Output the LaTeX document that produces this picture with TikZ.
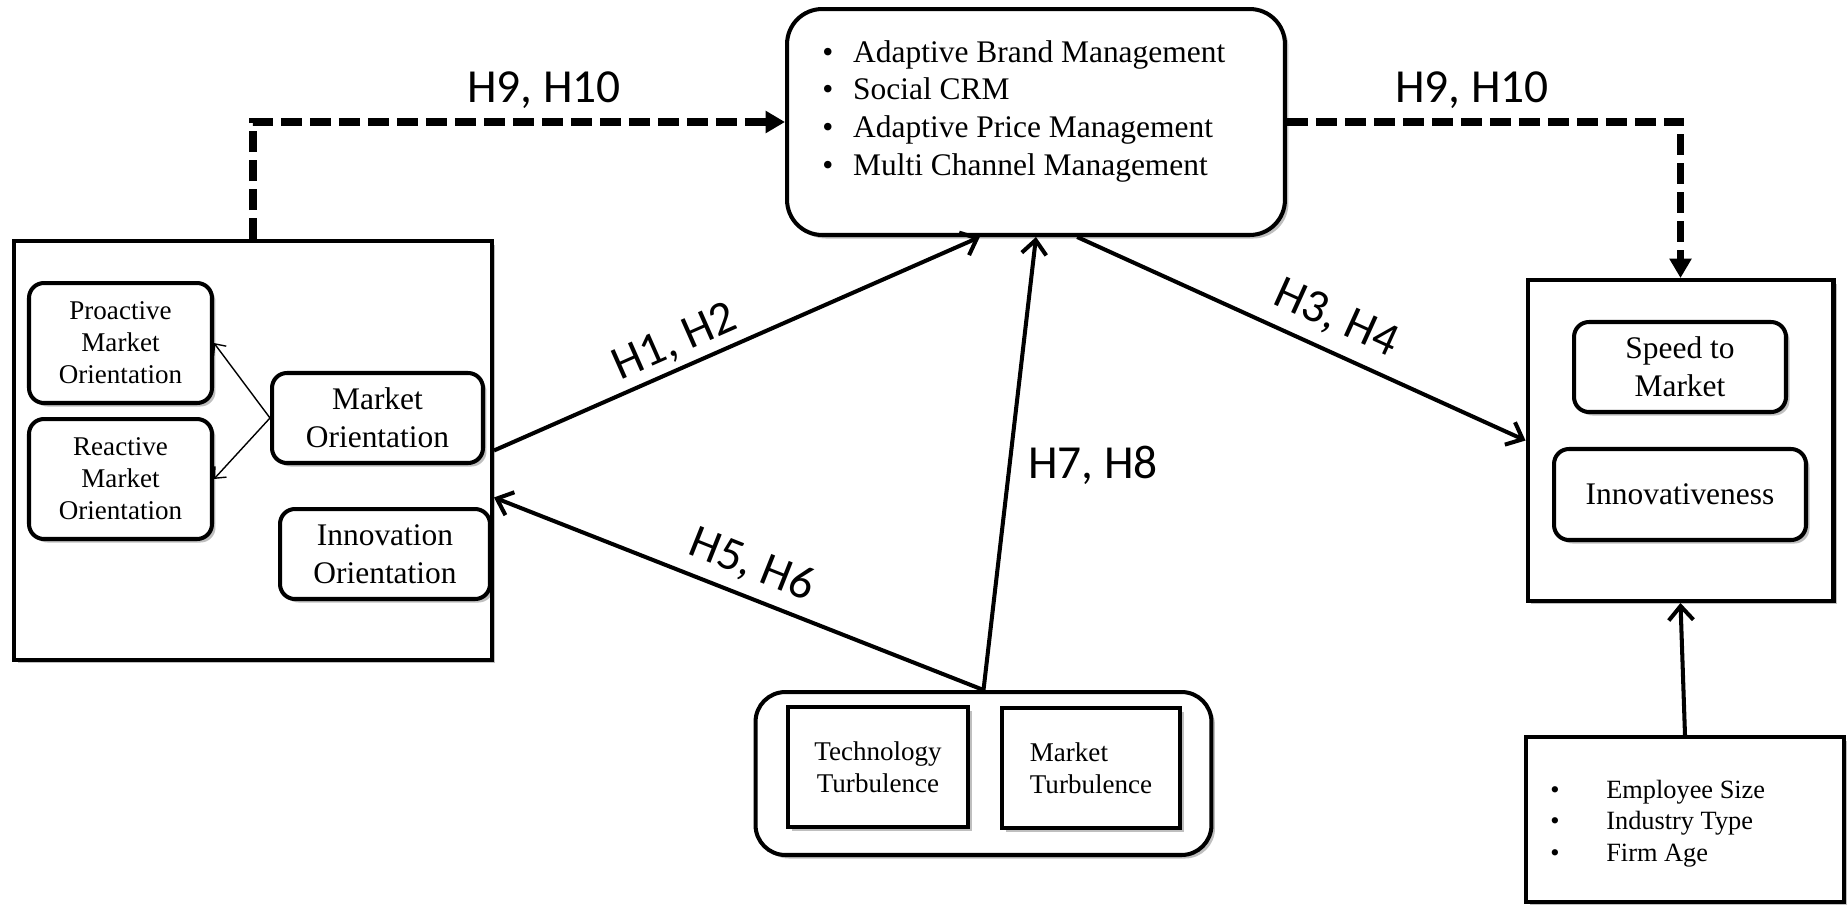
\documentclass[tikz,border=0pt]{standalone}
\usepackage{fontspec}
\setmainfont{Liberation Serif}
\newfontfamily\hypfont{Carlito}
\usetikzlibrary{arrows.meta,calc,shadows}

\tikzset{
  shade/.style={drop shadow={shadow xshift=2pt,shadow yshift=-2pt,opacity=0.25,fill=black}},
  outerbox/.style={draw,line width=2.3pt,fill=white,inner sep=0pt,shade},
  roundbox/.style={draw,line width=2.3pt,fill=white,rounded corners=8.5pt,inner sep=0pt,align=center,shade},
  bigtext/.style={font=\fontsize{17.9}{21.6}\selectfont},
  smalltext/.style={font=\fontsize{15.4}{18.2}\selectfont},
  hyp/.style={font=\hypfont\fontsize{27}{32}\selectfont,inner sep=0pt},
  thickarrow/.style={line width=2.3pt,-{Straight Barb[length=8pt,width=14pt]}},
  thinarrow/.style={line width=0.8pt,-{Straight Barb[length=5pt,width=9pt]}},
  dasharrow/.style={line width=4pt,dash pattern=on 12pt off 4.5pt,-{Triangle[length=11pt,width=12pt]}}
}

\begin{document}
\begin{tikzpicture}[x=0.02cm,y=-0.02cm]
\useasboundingbox (0,0) rectangle (1847,904);

% orientation block
\node[outerbox,minimum width=9.56cm,minimum height=8.38cm] (lbox) at (253,450.5) {};
\node[roundbox,smalltext,minimum width=3.66cm,minimum height=2.4cm] (pmo) at (120.5,343) {Proactive\\Market\\Orientation};
\node[roundbox,smalltext,minimum width=3.66cm,minimum height=2.4cm] (rmo) at (120.5,479) {Reactive\\Market\\Orientation};
\node[roundbox,bigtext,minimum width=4.22cm,minimum height=1.8cm] (mo) at (377.5,418) {Market\\Orientation};
\node[roundbox,bigtext,minimum width=4.2cm,minimum height=1.8cm] (io) at (385,554) {Innovation\\Orientation};

% marketing capabilities
\node[roundbox,rounded corners=20pt,minimum width=9.96cm,minimum height=4.52cm] (strat) at (1036,122) {};
\node[bigtext,anchor=base west,inner sep=0pt] (stratlist) at (822,62) {%
  \begin{tabular}[t]{@{}l@{\hspace{11.3pt}}l@{}}
  \textbullet & Adaptive Brand Management\\
  \textbullet & Social CRM\\
  \textbullet & Adaptive Price Management\\
  \textbullet & Multi Channel Management
  \end{tabular}};

% outcomes
\node[outerbox,minimum width=6.12cm,minimum height=6.42cm] (rbox) at (1680.5,440.5) {};
\node[roundbox,bigtext,minimum width=4.24cm,minimum height=1.8cm] (speed) at (1680,367) {Speed to\\Market};
\node[roundbox,bigtext,minimum width=5.04cm,minimum height=1.82cm] (innov) at (1680,494.5) {Innovativeness};

% controls
\node[outerbox,minimum width=6.36cm,minimum height=3.3cm] (ctrl) at (1685,819.5) {};
\node[anchor=base west,inner sep=0pt,font=\fontsize{15}{18.2}\selectfont] (ctrllist) at (1550,798) {%
  \begin{tabular}[t]{@{}l@{\hspace{26.6pt}}l@{}}
  \textbullet & Employee Size\\
  \textbullet & Industry Type\\
  \textbullet & Firm Age
  \end{tabular}};

% turbulence
\node[roundbox,rounded corners=17pt,minimum width=9.12cm,minimum height=3.26cm] (turb) at (983.5,773.5) {};
\node[outerbox,smalltext,align=center,minimum width=3.6cm,minimum height=2.4cm] (tech) at (878,767) {Technology\\Turbulence};
\node[outerbox,smalltext,align=left,minimum width=3.56cm,minimum height=2.4cm] (mturb) at (1091,768) {Market\\Turbulence};

% connectors
\draw[thinarrow] (mo.west) -- (pmo.east);
\draw[thinarrow] (mo.west) -- (rmo.east);
\draw[thickarrow] (lbox.east) -- ($(strat.south west)!0.388!(strat.south east)$);
\draw[thickarrow] (turb.north) -- (strat.south);
\draw[thickarrow] ($(strat.south west)!0.582!(strat.south east)$) -- (rbox.west);
\draw[thickarrow] (turb.north) -- ($(lbox.north east)!0.611!(lbox.south east)$);
\draw[thickarrow] (ctrl.north) -- (rbox.south);
\draw[dasharrow] (lbox.north) |- (strat.west);
\draw[dasharrow] (strat.east) -| (rbox.north);

% hypotheses
\node[hyp] (h910a) at (544,90) {H9, H10};
\node[hyp] (h910b) at (1472,90) {H9, H10};
\node[hyp,rotate=23.8] (h12) at (675,343) {H1, H2};
\node[hyp,rotate=-24.4] (h34) at (1336,319) {H3, H4};
\node[hyp,rotate=-21.7] (h56) at (752,565) {H5, H6};
\node[hyp] (h78) at (1093,465) {H7, H8};
\end{tikzpicture}
\end{document}
